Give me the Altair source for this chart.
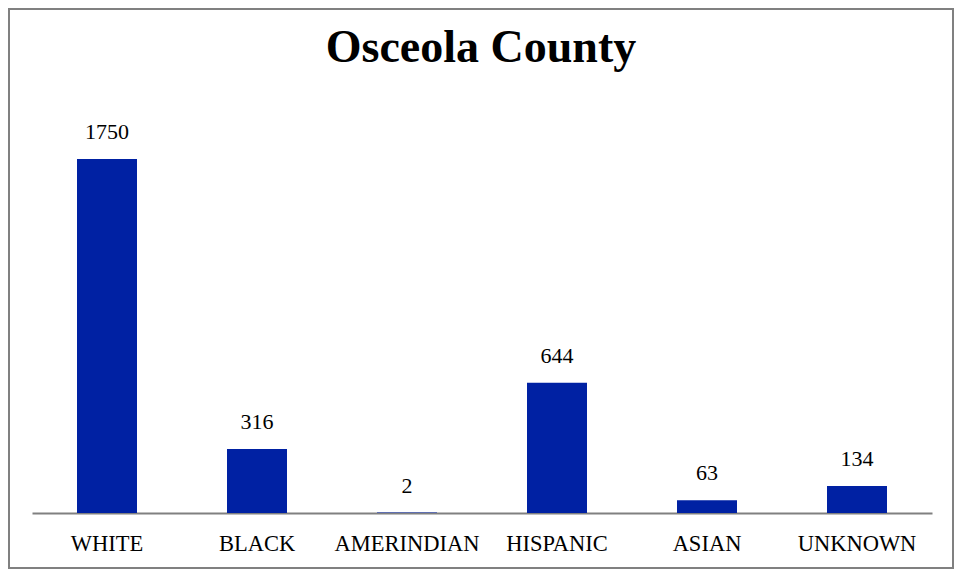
import altair as alt
import pandas as pd

categories = ["WHITE", "BLACK", "AMERINDIAN", "HISPANIC", "ASIAN", "UNKNOWN"]
values = [1750, 316, 2, 644, 63, 134]
title_text = "Osceola County"

df = pd.DataFrame({"category": categories, "value": values})

FONT = "Liberation Serif"
W, H = 900, 404.6
PL, PT, PR, PB = 24, 100.4, 22, 56

x = alt.X("category:N", sort=categories,
          scale=alt.Scale(paddingInner=0.6, paddingOuter=0.3),
          axis=alt.Axis(title=None, labelAngle=0, ticks=False, labelPadding=19,
                        labelFont=FONT, labelFontSize=22.5, labelColor="#000000",
                        domainColor="#808080", domainWidth=2))
y = alt.Y("value:Q", scale=alt.Scale(domain=[0, 2000]), axis=None)

base = alt.Chart(df)
bars = base.mark_bar(color="#0021A3").encode(x=x, y=y)
labels = base.mark_text(font=FONT, fontSize=22, color="#000000", dy=-20,
                        baseline="alphabetic").encode(x=x, y=y, text="value:Q")
one = alt.Chart(pd.DataFrame({"d": [0]}))
border = one.mark_rect(fill=None, stroke="#808080", strokeWidth=2).encode(
    x=alt.value(-PL + 1), x2=alt.value(W + PR - 1),
    y=alt.value(-PT + 1), y2=alt.value(H + PB - 1))
title = one.mark_text(font=FONT, fontSize=46, fontWeight="bold", color="#000000",
                      baseline="alphabetic", align="center").encode(
    x=alt.value(W / 2 - 1), y=alt.value(62 - 8 - PT), text=alt.value(title_text))

chart = alt.layer(border, bars, labels, title).properties(
    width=W, height=H,
    padding={"left": PL, "top": PT, "right": PR, "bottom": PB},
    autosize=alt.AutoSizeParams(type="none"),
).configure_view(stroke=None)

chart.save("out.html", embed_options={"renderer": "svg", "actions": False})
